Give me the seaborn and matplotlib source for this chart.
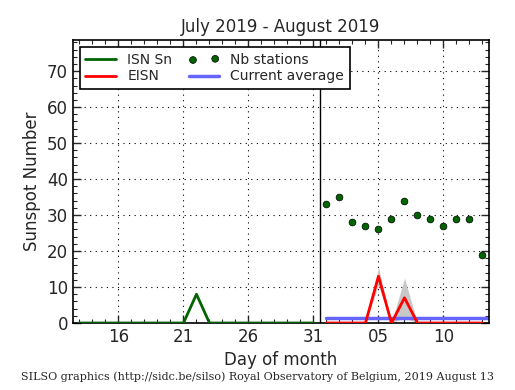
import numpy as np
import pandas as pd
import matplotlib
matplotlib.use("Agg")
import matplotlib.pyplot as plt
import seaborn as sns
from matplotlib.ticker import MultipleLocator, FixedLocator

# days: July = day, August = 31 + day
july_days = list(range(13, 32))
isn_sn = [0, 0, 0, 0, 0, 0, 0, 0, 0, 8, 0, 0, 0, 0, 0, 0, 0, 0, 0]

aug_days = [31 + d for d in range(1, 14)]
eisn = [0, 0, 0, 0, 13, 0, 7, 0, 0, 0, 0, 0, 0]
eisn_err = [0, 0, 0, 0, 2.5, 0, 5.5, 0, 0, 0, 0, 0, 0]
nb_stations = [33, 35, 28, 27, 26, 29, 34, 30, 29, 27, 29, 29, 19]
current_avg = 1.5

tick_pos = [16, 21, 26, 31, 36, 41]
tick_lab = ["16", "21", "26", "31", "05", "10"]

df_sn = pd.DataFrame({"day": july_days, "sn": isn_sn})
df_e = pd.DataFrame({"day": aug_days, "eisn": eisn, "err": eisn_err, "nb": nb_stations})

sns.set_style("ticks")
plt.rcParams["font.family"] = ["DejaVu Sans"]

fig = plt.figure(figsize=(5.15, 3.9), dpi=100)
ax = fig.add_axes([0.1417, 0.1718, 0.8078, 0.7252])

lo = np.clip(df_e["eisn"] - df_e["err"], 0, None)
hi = df_e["eisn"] + df_e["err"]
ax.fill_between(df_e["day"], lo, hi, color="#c8c8c8", lw=0, zorder=1)

sns.lineplot(data=df_sn, x="day", y="sn", color="darkgreen", lw=2, ax=ax, label="ISN Sn", zorder=3)
sns.lineplot(data=df_e, x="day", y="eisn", color="red", lw=2, ax=ax, label="EISN", zorder=3)
sns.scatterplot(data=df_e, x="day", y="nb", color="darkgreen", edgecolor="black", linewidth=0.5,
                s=24, ax=ax, label="Nb stations", zorder=4)
ax.plot([aug_days[0], 44.6], [current_avg, current_avg], color="#6666ff", lw=2.5,
        label="Current average", zorder=2)
ax.axvline(31.5, color="black", lw=1, zorder=2)

ax.set_xlim(12.5, 44.5)
ax.set_ylim(0, 78.6)
ax.xaxis.set_major_locator(FixedLocator(tick_pos))
ax.set_xticklabels(tick_lab)
ax.xaxis.set_minor_locator(MultipleLocator(1))
ax.yaxis.set_major_locator(MultipleLocator(10))
ax.yaxis.set_minor_locator(MultipleLocator(2))
ax.tick_params(which="both", direction="in", top=True, right=True, labelsize=12)
ax.tick_params(which="major", length=6, width=1)
ax.tick_params(which="minor", length=3, width=0.8)
ax.grid(True, which="major", color="black", ls=(0, (1, 4)), lw=0.8)
for s in ax.spines.values():
    s.set_linewidth(1.2)
    s.set_color("black")

ax.set_xlabel("Day of month", fontsize=12)
ax.set_ylabel("Sunspot Number", fontsize=12)
ax.set_title("July 2019 - August 2019", fontsize=12)

ax.legend(ncol=2, loc="upper left", bbox_to_anchor=(0.0, 1.0), fontsize=10,
          scatterpoints=2, frameon=True, fancybox=False, edgecolor="black",
          framealpha=1, borderpad=0.4, handlelength=2.2, columnspacing=1.2,
          labelspacing=0.2, handletextpad=0.8).get_frame().set_linewidth(1.2)

fig.text(0.5, 0.025, "SILSO graphics (http://sidc.be/silso) Royal Observatory of Belgium, 2019 August 13",
         ha="center", fontsize=8, family="DejaVu Serif")

fig.savefig("out.png", dpi=100)
